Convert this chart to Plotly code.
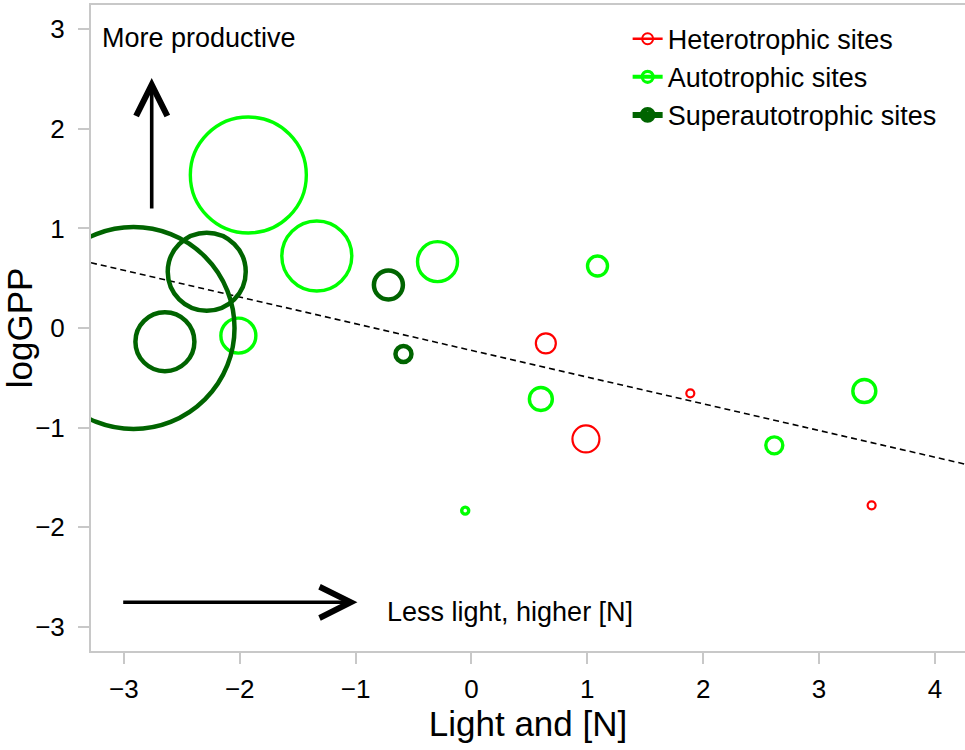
import plotly.graph_objects as go

# Site scores: position on the light/[N] gradient, productivity and bubble size
hetero_x = [0.642, 0.988, 1.889, 3.454]
hetero_y = [-0.154, -1.114, -0.656, -1.780]
hetero_size = [20, 27, 8, 8]

auto_x = [-1.926, -1.335, -0.293, -2.012, 1.088, 0.599, 2.614, 3.391, -0.054]
auto_y = [1.536, 0.723, 0.666, -0.077, 0.622, -0.713, -1.178, -0.633, -1.834]
auto_size = [116, 70, 40, 35, 20, 23, 17, 23, 7]

super_x = [-2.917, -2.285, -2.646, -0.717, -0.587]
super_y = [0.000, 0.565, -0.137, 0.432, -0.261]
super_size = [202, 78, 59, 29, 16]

# Fitted regression line
fit_intercept = -0.225
fit_slope = -0.268

x_ticks = [-3, -2, -1, 0, 1, 2, 3, 4]
y_ticks = [-3, -2, -1, 0, 1, 2, 3]
x_range = [-3.284, 4.26]
y_range = [-3.243, 3.243]

RED = "#FF0000"
GREEN = "#00FF00"
DARK = "#006400"
FONT = "Liberation Sans, Arial, sans-serif"

fig = go.Figure()

# regression line across the full x range
fig.add_trace(go.Scatter(
    x=x_range,
    y=[fit_intercept + fit_slope * v for v in x_range],
    mode="lines",
    line=dict(color="black", width=1.6, dash="6px,4px"),
    showlegend=False, hoverinfo="skip",
))

groups = [
    ("Heterotrophic sites", hetero_x, hetero_y, hetero_size, RED, 2.2, 2.5),
    ("Autotrophic sites", auto_x, auto_y, auto_size, GREEN, 3.4, 4),
    ("Superautotrophic sites", super_x, super_y, super_size, DARK, 4.5, 6),
]

for name, xs, ys, ss, col, lw, legw in groups:
    fig.add_trace(go.Scatter(
        x=xs, y=ys, mode="markers",
        marker=dict(symbol="circle-open", size=ss, color=col, opacity=1,
                    line=dict(color=col, width=lw)),
        showlegend=False, cliponaxis=True,
    ))

# legend entries (line + open circle)
for name, xs, ys, ss, col, lw, legw in groups:
    fig.add_trace(go.Scatter(
        x=[None], y=[None], mode="lines+markers", name=name,
        line=dict(color=col, width=legw),
        marker=dict(symbol="circle-open", size=11, color=col, opacity=1,
                    line=dict(color=col, width=legw * 0.8)),
    ))

# direction arrows
fig.add_annotation(x=-2.76, y=2.51, ax=-2.76, ay=1.185,
                   xref="x", yref="y", axref="x", ayref="y",
                   text="", showarrow=True, arrowhead=5, arrowsize=1.7,
                   arrowwidth=3.6, arrowcolor="black", standoff=0)
fig.add_annotation(x=-0.984, y=-2.754, ax=-3.019, ay=-2.754,
                   xref="x", yref="y", axref="x", ayref="y",
                   text="", showarrow=True, arrowhead=5, arrowsize=1.7,
                   arrowwidth=3.6, arrowcolor="black", standoff=0)

fig.add_annotation(x=-3.206, y=2.91, xref="x", yref="y", text="More productive",
                   showarrow=False, xanchor="left", yanchor="middle",
                   font=dict(family=FONT, size=27, color="black"))
fig.add_annotation(x=-0.746, y=-2.848, xref="x", yref="y",
                   text="Less light, higher [N]",
                   showarrow=False, xanchor="left", yanchor="middle",
                   font=dict(family=FONT, size=27, color="black"))

axis_common = dict(
    showgrid=False, zeroline=False,
    showline=True, linecolor="#c8c8c8", linewidth=2,
    ticks="outside", ticklen=11, tickwidth=1.5, tickcolor="#c8c8c8",
    tickfont=dict(family=FONT, size=26, color="black"),
)

fig.update_xaxes(
    range=x_range, tickvals=x_ticks, mirror=True,
    title=dict(text="Light and [N]", font=dict(family=FONT, size=35, color="black"),
               standoff=4),
    ticklabelstandoff=3,
    **axis_common,
)
fig.update_yaxes(
    range=y_range, tickvals=y_ticks,
    title=dict(text="logGPP", font=dict(family=FONT, size=35, color="black"),
               standoff=0),
    ticklabelstandoff=8,
    **axis_common,
)

fig.update_layout(
    width=965, height=750,
    margin=dict(l=91, r=0, t=5, b=99),
    paper_bgcolor="white", plot_bgcolor="white",
    font=dict(family=FONT, color="black"),
    legend=dict(x=0.614, y=0.985, xanchor="left", yanchor="top",
                bgcolor="rgba(0,0,0,0)", borderwidth=0,
                font=dict(family=FONT, size=27, color="black"),
                tracegroupgap=0),
)

fig.write_html("out.html")
